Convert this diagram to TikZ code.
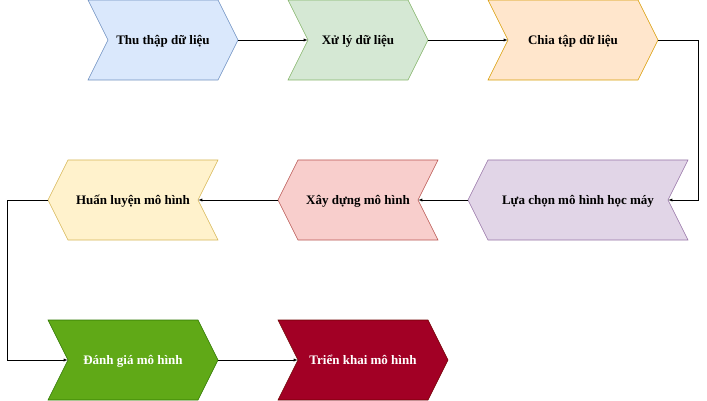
\documentclass[tikz,border=0pt]{standalone}
\usepackage{fontspec}
\setmainfont{Liberation Serif}
\usetikzlibrary{shapes.symbols}
\tikzset{>=latex}
\definecolor{bluefill}{HTML}{DAE8FC}\definecolor{bluedraw}{HTML}{6C8EBF}
\definecolor{greenfill}{HTML}{D5E8D4}\definecolor{greendraw}{HTML}{82B366}
\definecolor{orangefill}{HTML}{FFE6CC}\definecolor{orangedraw}{HTML}{D79B00}
\definecolor{purplefill}{HTML}{E1D5E7}\definecolor{purpledraw}{HTML}{9673A6}
\definecolor{redfill}{HTML}{F8CECC}\definecolor{reddraw}{HTML}{B85450}
\definecolor{yellowfill}{HTML}{FFF2CC}\definecolor{yellowdraw}{HTML}{D6B656}
\definecolor{darkgreenfill}{HTML}{60A917}\definecolor{darkgreendraw}{HTML}{2D7600}
\definecolor{darkredfill}{HTML}{A20025}\definecolor{darkreddraw}{HTML}{6F0000}
\tikzset{
  stage/.style={shape=signal, signal pointer angle=126.87, minimum height=80pt,
    inner sep=0pt, line width=0.6pt, text height=10pt, text depth=1.5pt,
    font=\fontsize{13}{15}\selectfont\bfseries},
  toright/.style={signal from=west, signal to=east},
  toleft/.style={signal from=east, signal to=west},
}
\begin{document}
\begin{tikzpicture}[x=1pt,y=-1pt]
  \useasboundingbox (0,0) rectangle (707,401);
  \node[stage, toright, fill=bluefill, draw=bluedraw, minimum width=150pt] (thu) at (163,40) {Thu thập dữ liệu};
  \node[stage, toright, fill=greenfill, draw=greendraw, minimum width=140pt] (xuly) at (358,40) {Xử lý dữ liệu};
  \node[stage, toright, fill=orangefill, draw=orangedraw, minimum width=170pt] (chia) at (573,40) {Chia tập dữ liệu};
  \node[stage, toleft, fill=purplefill, draw=purpledraw, minimum width=220pt] (chon) at (578,200) {Lựa chọn mô hình học máy};
  \node[stage, toleft, fill=redfill, draw=reddraw, minimum width=160pt] (xay) at (358,200) {Xây dựng mô hình};
  \node[stage, toleft, fill=yellowfill, draw=yellowdraw, minimum width=170pt] (huan) at (133,200) {Huấn luyện mô hình};
  \node[stage, toright, fill=darkgreenfill, draw=darkgreendraw, text=white, minimum width=170pt] (danh) at (133,360) {Đánh giá mô hình};
  \node[stage, toright, fill=darkredfill, draw=darkreddraw, text=white, minimum width=170pt] (trien) at (363,360) {Triển khai mô hình};
  \draw[->] (thu.east) -- (xuly.west);
  \draw[->] (xuly.east) -- (chia.west);
  \draw[->] (chia.east) -- ++(40,0) |- (chon.east);
  \draw[->] (chon.west) -- (xay.east);
  \draw[->] (xay.west) -- (huan.east);
  \draw[->] (huan.west) -- ++(-40,0) |- (danh.west);
  \draw[->] (danh.east) -- (trien.west);
\end{tikzpicture}
\end{document}
